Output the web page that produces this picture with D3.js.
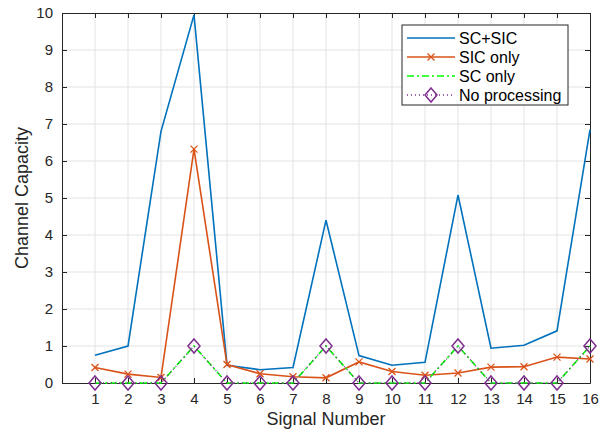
<!DOCTYPE html>
<html>
<head>
<meta charset="utf-8">
<script src="https://cdn.jsdelivr.net/npm/d3@7"></script>
<style>
  body { margin: 0; background: #fff; }
  svg text { font-family: "Liberation Sans", Arial, sans-serif; }
</style>
</head>
<body>
<div id="chart"></div>
<script>
"use strict";

// == DATA ==
var signals = [1, 2, 3, 4, 5, 6, 7, 8, 9, 10, 11, 12, 13, 14, 15, 16];
var scSic = [0.75, 1.0, 6.8, 9.95, 0.48, 0.36, 0.42, 4.4, 0.74, 0.48, 0.56, 5.08, 0.94, 1.02, 1.41, 6.85];
var sicOnly = [0.42, 0.24, 0.15, 6.32, 0.5, 0.25, 0.17, 0.14, 0.57, 0.31, 0.21, 0.27, 0.43, 0.44, 0.7, 0.65];
var scOnly = [0, 0, 0, 1, 0, 0, 0, 1, 0, 0, 0, 1, 0, 0, 0, 1];
var noProc = [0, 0, 0, 1, 0, 0, 0, 1, 0, 0, 0, 1, 0, 0, 0, 1];
var yTicks = [0, 1, 2, 3, 4, 5, 6, 7, 8, 9, 10];
var legendNames = ["SC+SIC", "SIC only", "SC only", "No processing"];

// == BOILERPLATE ==
var W = 606, H = 431;
var margin = { top: 13, right: 16, bottom: 48, left: 62 },
    width = W - margin.left - margin.right,
    height = H - margin.top - margin.bottom;

var svg = d3.select("#chart").append("svg")
  .attr("width", W).attr("height", H);
var g = svg.append("g")
  .attr("transform", "translate(" + margin.left + "," + margin.top + ")");

var x = d3.scaleLinear().domain([0, 16]).range([0, width]);
var y = d3.scaleLinear().domain([0, 10]).range([height, 0]);

// grid
g.append("g").selectAll("line").data(d3.range(1, 16)).enter().append("line")
  .attr("x1", d => x(d)).attr("x2", d => x(d))
  .attr("y1", 0).attr("y2", height)
  .attr("stroke", "#e3e3e3");
g.append("g").selectAll("line").data(yTicks.slice(1, -1)).enter().append("line")
  .attr("y1", d => y(d)).attr("y2", d => y(d))
  .attr("x1", 0).attr("x2", width)
  .attr("stroke", "#e3e3e3");

// axes (MATLAB-ish, inward ticks, box)
var axColor = "#262626";
var xAxis = g.append("g").attr("transform", "translate(0," + height + ")")
  .call(d3.axisBottom(x).tickValues(signals).tickSizeInner(-5).tickSizeOuter(0).tickPadding(10));
var yAxis = g.append("g")
  .call(d3.axisLeft(y).tickValues(yTicks).tickSizeInner(-5).tickSizeOuter(0).tickPadding(9));
var xTop = g.append("g")
  .call(d3.axisTop(x).tickValues(signals).tickSizeInner(-5).tickSizeOuter(0).tickFormat(""));
var yRight = g.append("g").attr("transform", "translate(" + width + ",0)")
  .call(d3.axisRight(y).tickValues(yTicks).tickSizeInner(-5).tickSizeOuter(0).tickFormat(""));
[xAxis, yAxis, xTop, yRight].forEach(function (a) {
  a.select(".domain").attr("stroke", axColor);
  a.selectAll(".tick line").attr("stroke", axColor);
  a.selectAll("text").attr("fill", axColor).style("font-size", "15px");
});

// labels
svg.append("text").attr("x", margin.left + width / 2).attr("y", 425)
  .attr("text-anchor", "middle").attr("fill", axColor)
  .style("font-size", "18px").text("Signal Number");
svg.append("text")
  .attr("transform", "translate(28," + (margin.top + height / 2) + ") rotate(-90)")
  .attr("text-anchor", "middle").attr("fill", axColor)
  .style("font-size", "18px").text("Channel Capacity");

// series
var series = [
  { vals: scSic, color: "#0072BD", dash: null, marker: null },
  { vals: sicOnly, color: "#D95319", dash: null, marker: "x" },
  { vals: scOnly, color: "#00FF00", dash: "7,3,2,3", marker: null },
  { vals: noProc, color: "#7E2F8E", dash: "1,3", marker: "d" }
];

var line = d3.line().x((d, i) => x(signals[i])).y(d => y(d));
var plot = g.append("g");

function drawMarker(sel, type, color, cx, cy) {
  if (type === "x") {
    sel.append("path")
      .attr("d", "M" + (cx - 3.5) + "," + (cy - 3.5) + "L" + (cx + 3.5) + "," + (cy + 3.5) +
                 "M" + (cx - 3.5) + "," + (cy + 3.5) + "L" + (cx + 3.5) + "," + (cy - 3.5))
      .attr("stroke", color).attr("stroke-width", 1.3).attr("fill", "none");
  } else if (type === "d") {
    sel.append("path")
      .attr("d", "M" + cx + "," + (cy - 7) + "L" + (cx + 6) + "," + cy + "L" + cx + "," + (cy + 7) +
                 "L" + (cx - 6) + "," + cy + "Z")
      .attr("stroke", color).attr("stroke-width", 1.5).attr("fill", "none");
  }
}

series.forEach(function (s) {
  plot.append("path").datum(s.vals)
    .attr("d", line).attr("fill", "none")
    .attr("stroke", s.color).attr("stroke-width", s.dash === "1,3" ? 1.3 : 1.6)
    .attr("stroke-dasharray", s.dash);
  if (s.marker) {
    s.vals.forEach(function (v, i) {
      drawMarker(plot, s.marker, s.color, x(signals[i]), y(v));
    });
  }
});

// legend
var lg = svg.append("g").attr("transform", "translate(402,25)");
lg.append("rect").attr("width", 166).attr("height", 80)
  .attr("fill", "#fff").attr("stroke", axColor).attr("stroke-width", 1);
legendNames.forEach(function (name, i) {
  var s = series[i];
  var ly = 13 + i * 19;
  lg.append("line").attr("x1", 5).attr("x2", 53).attr("y1", ly).attr("y2", ly)
    .attr("stroke", s.color).attr("stroke-width", s.dash === "1,3" ? 1.3 : 1.6)
    .attr("stroke-dasharray", s.dash);
  if (s.marker) drawMarker(lg, s.marker, s.color, 29, ly);
  lg.append("text").attr("x", 57).attr("y", ly + 6)
    .attr("fill", "#000").style("font-size", "16px").text(name);
});
</script>
</body>
</html>
